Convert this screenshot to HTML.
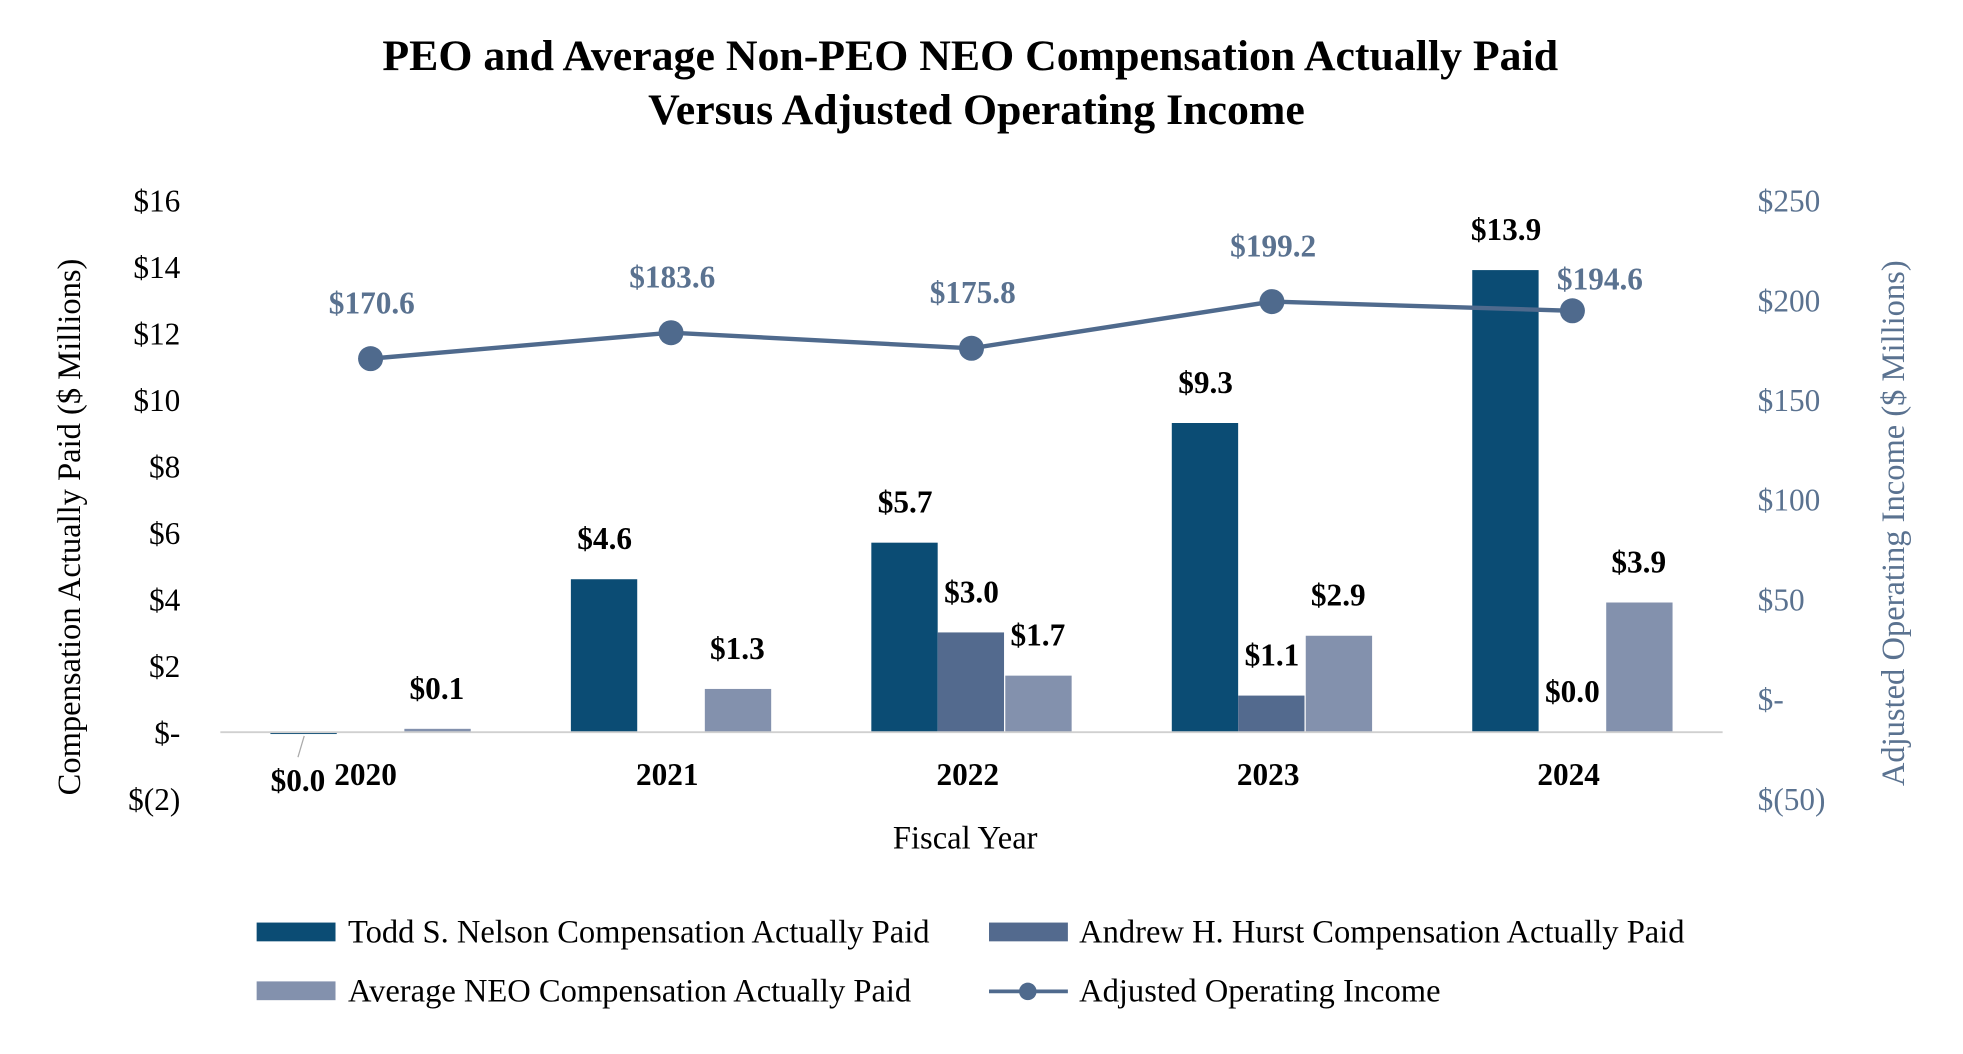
<!DOCTYPE html>
<html><head><meta charset="utf-8"><style>
html,body{margin:0;padding:0;background:#fff;}
svg{display:block;font-family:"Liberation Serif",serif;}
</style></head><body>
<svg id="chart" width="1963" height="1054" viewBox="0 0 1568 842" preserveAspectRatio="none" xmlns="http://www.w3.org/2000/svg">
<text x="775" y="56" text-anchor="middle" font-size="35" font-weight="bold">PEO and Average Non-PEO NEO Compensation Actually Paid</text>
<text x="780" y="99" text-anchor="middle" font-size="35" font-weight="bold">Versus Adjusted Operating Income</text>
<g id="grid"></g>
<g id="bars"></g>
<g id="line"></g>
<g id="axes"></g>
<text transform="translate(64,421) rotate(-90)" text-anchor="middle" font-size="26">Compensation Actually Paid ($ Millions)</text>
<text transform="translate(1521,418) rotate(-90)" text-anchor="middle" font-size="26" fill="#5a7290">Adjusted Operating Income ($ Millions)</text>
<text x="771" y="678" text-anchor="middle" font-size="26">Fiscal Year</text>
<g>
 <g><rect x="205" y="737" width="63" height="15" fill="#0b4c74"/><text x="278" y="753" font-size="26">Todd S. Nelson Compensation Actually Paid</text></g>
 <g><rect x="790" y="737" width="63" height="15" fill="#536a8e"/><text x="862" y="753" font-size="26">Andrew H. Hurst Compensation Actually Paid</text></g>
 <g><rect x="205" y="784" width="63" height="15" fill="#8391ad"/><text x="278" y="800" font-size="26">Average NEO Compensation Actually Paid</text></g>
 <g><line x1="790" y1="792" x2="853" y2="792" stroke="#4f6a8d" stroke-width="3"/><circle cx="821" cy="792" r="7" fill="#4f6a8d"/><text x="862" y="800" font-size="26">Adjusted Operating Income</text></g>
</g>
</svg>
<script>
const years = ['2020','2021','2022','2023','2024'];
const todd = [-0.05, 4.6, 5.7, 9.3, 13.9];
const toddLabels = ['$0.0','$4.6','$5.7','$9.3','$13.9'];
const hurst = [null, null, 3.0, 1.1, 0.0];
const hurstLabels = ['','','$3.0','$1.1','$0.0'];
const avgNeo = [0.1, 1.3, 1.7, 2.9, 3.9];
const avgLabels = ['$0.1','$1.3','$1.7','$2.9','$3.9'];
const income = [170.6, 183.6, 175.8, 199.2, 194.6];
const incomeLabels = ['$170.6','$183.6','$175.8','$199.2','$194.6'];
const leftTicks = [-2,0,2,4,6,8,10,12,14,16];
const leftTickLabels = ['$(2)','$-','$2','$4','$6','$8','$10','$12','$14','$16'];
const rightTicks = [-50,0,50,100,150,200,250];
const rightTickLabels = ['$(50)','$-','$50','$100','$150','$200','$250'];

const NS='http://www.w3.org/2000/svg';
const plotTop=160, plotBot=638;
function yL(v){return plotBot-(v+2)/18*(plotBot-plotTop);}
function yR(v){return plotBot-(v+50)/300*(plotBot-plotTop);}
function xC(i){return 296+i*240;}
function mk(tag,attrs,parent,txt){const e=document.createElementNS(NS,tag);for(const k in attrs)e.setAttribute(k,attrs[k]);if(txt!==undefined)e.textContent=txt;document.getElementById(parent).appendChild(e);return e;}

let ax=mk('line',{x1:176,x2:1376,y1:yL(0),y2:yL(0),stroke:'#d0d0d0','stroke-width':1.5},'axes');


leftTicks.forEach((v,i)=>{
 const t=mk('text',{x:144,y:yL(v)+9,'text-anchor':'end','font-size':25},'axes',leftTickLabels[i]);
 
 
});
rightTicks.forEach((v,i)=>{
 const t=mk('text',{x:1404,y:yR(v)+9,'font-size':25,fill:'#5a7290'},'axes',rightTickLabels[i]);
 
 
});
years.forEach((y,i)=>{
 const t=mk('text',{x:xC(i)-3+(i==0?-1:0),y:627,'text-anchor':'middle','font-size':25,'font-weight':'bold'},'axes',y);
 
 
});

function bar(v,x,color,name,label,lx){
 if(v===null)return;
 const y0=yL(0),y1=yL(v);
 const h=Math.abs(y1-y0);
 const r=mk('rect',{x:x,y:Math.min(y0,y1),width:53,height:(v!==0?Math.max(h,1.5):0),fill:color},'bars');
 
 
 if(label){
  let ty=Math.min(y0,y1)-24;
  if(v<0){ty=y0+47;}
  const t=mk('text',{x:lx,y:ty,'text-anchor':'middle','font-size':25,'font-weight':'bold'},'bars',label);
  
  
 }
}
years.forEach((y,i)=>{
 const c=xC(i);
 bar(todd[i],c-80,'#0b4c74','bar-todd-'+y,toddLabels[i],i==0?c-58:c-53);
 bar(hurst[i],c-27,'#536a8e','bar-hurst-'+y,hurstLabels[i],c);
 bar(avgNeo[i],c+27,'#8391ad','bar-avg-'+y,avgLabels[i],c+53);
});
let ld=mk('line',{x1:243,y1:yL(0)+3,x2:238,y2:yL(0)+20,stroke:'#aaa','stroke-width':1},'bars');



const pts=income.map((v,i)=>xC(i)+','+yR(v)).join(' ');
const pl=mk('polyline',{points:pts,fill:'none',stroke:'#4f6a8d','stroke-width':3.5},'line');


income.forEach((v,i)=>{
 const c=mk('circle',{cx:xC(i),cy:yR(v),r:10,fill:'#4f6a8d'},'line');
 
 
 const lx=i==4?xC(i)+22:xC(i)+1;
 const ty=i==4?yR(v)-17:yR(v)-36;
 const t=mk('text',{x:lx,y:ty,'text-anchor':'middle','font-size':25,'font-weight':'bold',fill:'#5a7290'},'line',incomeLabels[i]);
 
 
});
</script>
</body></html>
